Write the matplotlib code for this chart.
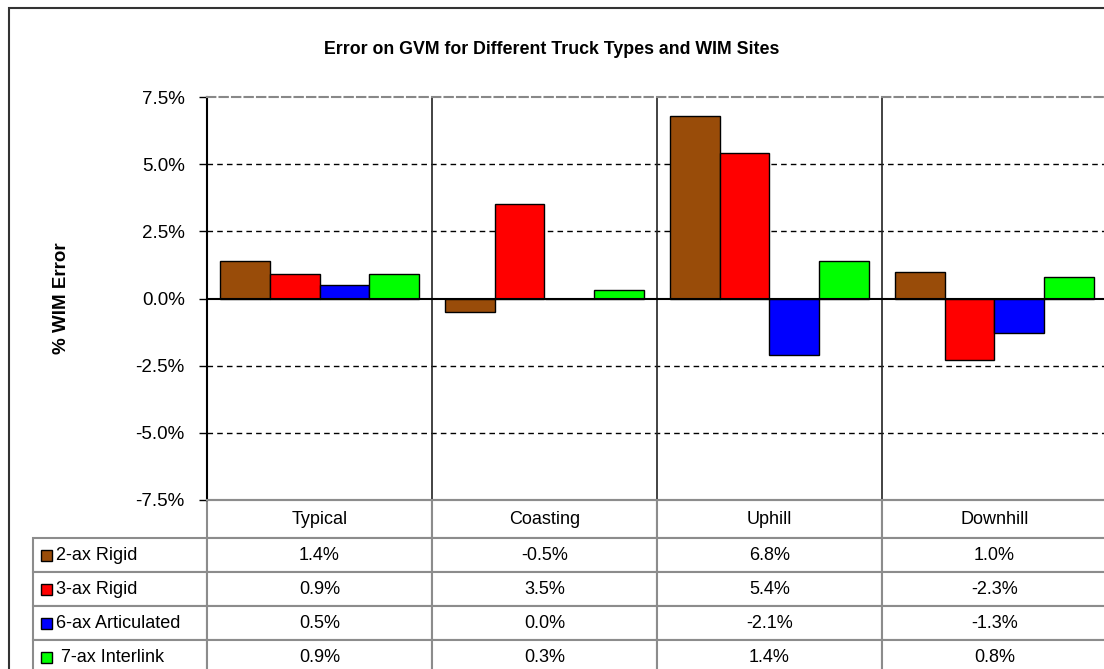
import matplotlib.pyplot as plt
from matplotlib.patches import Rectangle
import numpy as np

plt.rcParams['font.family'] = ['Liberation Sans', 'DejaVu Sans']

# data
sites = ["Typical", "Coasting", "Uphill", "Downhill"]
trucks = ["2-ax Rigid", "3-ax Rigid", "6-ax Articulated", " 7-ax Interlink"]
err_2ax = [1.4, -0.5, 6.8, 1.0]
err_3ax = [0.9, 3.5, 5.4, -2.3]
err_6ax = [0.5, 0.0, -2.1, -1.3]
err_7ax = [0.9, 0.3, 1.4, 0.8]
colors = ["#994C09", "#FF0000", "#0000FF", "#00FF00"]
series = [err_2ax, err_3ax, err_6ax, err_7ax]

W, H = 1104, 669
fig = plt.figure(figsize=(W / 100, H / 100), dpi=100)

# outer chart border (cropped on right/bottom)
fig.add_artist(Rectangle((9 / W, -0.1), 1.2, (H - 8) / H + 0.1, transform=fig.transFigure,
                         fill=False, edgecolor="#333333", lw=1.5))

ax = fig.add_axes([207 / W, (H - 500) / H, 900 / W, 403 / H])

x = np.arange(len(sites))
bw = 0.222
for i, (vals, c) in enumerate(zip(series, colors)):
    ax.bar(x + (i - 1.5) * bw, vals, width=bw, color=c, edgecolor="black", lw=1, zorder=3)

ax.set_xlim(-0.5, len(sites) - 0.5)
ax.set_ylim(-7.5, 7.5)
yt = np.arange(-7.5, 7.6, 2.5)
ax.set_yticks(yt)
ax.set_yticklabels([f"{v:.1f}%" for v in yt], fontsize=13.5)
ax.tick_params(axis="y", length=6, width=1, direction="out", pad=10)
ax.set_xticks([])

for v in [-5, -2.5, 2.5, 5]:
    ax.axhline(v, color="black", lw=1, ls=(0, (4, 3)), zorder=1)
ax.axhline(0, color="black", lw=1.5, zorder=4)
for b in x[:-1] + 0.5:
    ax.axvline(b, color="#222222", lw=1.2, zorder=1)

ax.spines["left"].set_linewidth(1.5)
ax.spines["left"].set_color("black")
ax.spines["top"].set_color("#888888")
ax.spines["top"].set_linestyle((0, (4, 2)))
ax.spines["top"].set_linewidth(1.5)
ax.spines["right"].set_visible(False)
ax.spines["bottom"].set_color("#8c8c8c")
ax.spines["bottom"].set_linewidth(1.5)

fig.text(62 / W, (H - 298) / H, "% WIM Error", rotation=90, ha="center", va="center",
         fontsize=13.5, fontweight="bold")
fig.text(0.5, (H - 49) / H, "Error on GVM for Different Truck Types and WIM Sites",
         ha="center", va="center", fontsize=12.8, fontweight="bold")

# data table
head_h, row_h, lab_w, col_w = 38, 34, 174, 225
tot_h = head_h + row_h * len(trucks)
tot_w = lab_w + col_w * len(sites)
cell_text = [[t] + [f"{v:.1f}%" for v in vals] for t, vals in zip(trucks, series)]
tab = ax.table(cellText=cell_text, colLabels=[""] + sites, cellLoc="center",
               colWidths=[lab_w] + [col_w] * len(sites),
               bbox=[-lab_w / 900, -tot_h / 403, tot_w / 900, tot_h / 403])
tab.auto_set_font_size(False)
tab.set_fontsize(13)
for (r, c), cell in tab.get_celld().items():
    cell.set_edgecolor("#8c8c8c")
    cell.set_linewidth(1.5)
    cell.set_height(head_h if r == 0 else row_h)
    if r == 0 and c == 0:
        cell.visible_edges = ""
    if c == 0 and r > 0:
        cell.PAD = 23 / lab_w
        cell.get_text().set_ha("left")
        cell._loc = "left"

# legend keys in the table
for i, c in enumerate(colors):
    yc = -(head_h + row_h * (i + 0.5)) / 403
    ax.add_patch(Rectangle((-(207 - 41) / 900, yc - 5.5 / 403), 11 / 900, 11 / 403,
                           transform=ax.transAxes, facecolor=c, edgecolor="black",
                           lw=1, clip_on=False, zorder=5))

fig.savefig("out.png", dpi=100)
